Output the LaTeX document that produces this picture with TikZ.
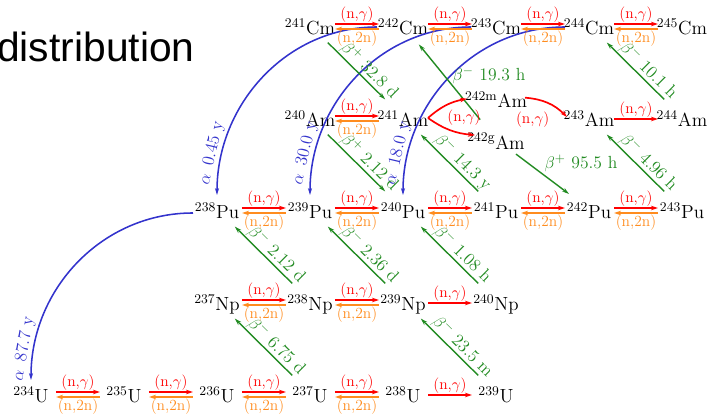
\documentclass[tikz,border=0pt]{standalone}
\usepackage{fontspec}
\usepackage{tikz}
\usetikzlibrary{arrows.meta, positioning, calc}
\newfontfamily\titlefont{Liberation Sans}
\definecolor{capture}{RGB}{255,0,0}
\definecolor{knockout}{RGB}{255,140,30}
\definecolor{betadk}{RGB}{34,139,34}
\definecolor{alphadk}{RGB}{51,51,204}

\begin{document}
\begin{tikzpicture}[x=2.325cm, y=2.3cm,
          nuc/.style={anchor=base, inner sep=0pt, font=\fontsize{13.5}{15}\selectfont},
          ng/.style={-{Stealth[length=5pt, width=3.2pt]}, draw=capture, line width=1.2pt},
          nn/.style={-{Stealth[length=5pt, width=3.2pt]}, draw=knockout, line width=1.2pt},
          rlab/.style={font=\fontsize{11}{12}\selectfont, inner sep=0.5pt},
          ngl/.style={rlab, above, text=capture},
          nnl/.style={rlab, below, text=knockout},
          bdk/.style={-{Stealth[length=5pt, width=3pt]}, draw=betadk, line width=1pt,
                      shorten <=0.625cm, shorten >=0.625cm},
          bhlab/.style={text=betadk, font=\fontsize{12.5}{14}\selectfont, inner sep=0pt},
          blab/.style={bhlab, inner sep=0.5pt, sloped, above},
          adk/.style={-{Stealth[length=5pt, width=3pt]}, draw=alphadk, line width=1.1pt},
          alab/.style={text=alphadk, font=\fontsize{12.5}{14}\selectfont, inner sep=1pt,
                       sloped, above, pos=0.85}
        ]
        \useasboundingbox (-0.775cm,-0.3cm) rectangle (17.05cm,10.075cm);
        \node[anchor=base west, inner sep=0pt, font=\titlefont\fontsize{29}{32}\selectfont]
          (title) at (-0.85cm,8.525cm) {distribution};

        % nuclides
        \node[nuc] (u234) at (0,0) {\textsuperscript{234}U};
        \node[nuc] (u235) at (1,0) {\textsuperscript{235}U};
        \node[nuc] (u236) at (2,0) {\textsuperscript{236}U};
        \node[nuc] (u237) at (3,0) {\textsuperscript{237}U};
        \node[nuc] (u238) at (4,0) {\textsuperscript{238}U};
        \node[nuc] (u239) at (5,0) {\textsuperscript{239}U};
        \node[nuc] (np237) at (2,1) {\textsuperscript{237}Np};
        \node[nuc] (np238) at (3,1) {\textsuperscript{238}Np};
        \node[nuc] (np239) at (4,1) {\textsuperscript{239}Np};
        \node[nuc] (np240) at (5,1) {\textsuperscript{240}Np};
        \node[nuc] (pu238) at (2,2) {\textsuperscript{238}Pu};
        \node[nuc] (pu239) at (3,2) {\textsuperscript{239}Pu};
        \node[nuc] (pu240) at (4,2) {\textsuperscript{240}Pu};
        \node[nuc] (pu241) at (5,2) {\textsuperscript{241}Pu};
        \node[nuc] (pu242) at (6,2) {\textsuperscript{242}Pu};
        \node[nuc] (pu243) at (7,2) {\textsuperscript{243}Pu};
        \node[nuc] (am240) at (3,3) {\textsuperscript{240}Am};
        \node[nuc] (am241) at (4,3) {\textsuperscript{241}Am};
        \node[nuc] (am242m) at (5,3.21) {\textsuperscript{242m}Am};
        \node[nuc] (am242g) at (5,2.76) {\textsuperscript{242g}Am};
        \node[nuc] (am243) at (6,3) {\textsuperscript{243}Am};
        \node[nuc] (am244) at (7,3) {\textsuperscript{244}Am};
        \node[nuc] (cm241) at (3,4) {\textsuperscript{241}Cm};
        \node[nuc] (cm242) at (4,4) {\textsuperscript{242}Cm};
        \node[nuc] (cm243) at (5,4) {\textsuperscript{243}Cm};
        \node[nuc] (cm244) at (6,4) {\textsuperscript{244}Cm};
        \node[nuc] (cm245) at (7,4) {\textsuperscript{245}Cm};

        % alpha decays
        \draw[adk] ([shift={(-0.65cm,0.2cm)}]cm242.base) to[out=180, in=90]
          node[alab] {$\alpha$\enspace 0.45 y} ([yshift=0.6cm]pu238.base);
        \draw[adk] ([shift={(-0.62cm,0.2cm)}]cm243.base) to[out=180, in=90]
          node[alab] {$\alpha$\enspace 30.0 y} ([yshift=0.6cm]pu239.base);
        \draw[adk] ([shift={(-0.6cm,0.2cm)}]cm244.base) to[out=180, in=90]
          node[alab] {$\alpha$\enspace 18.0 y} ([yshift=0.6cm]pu240.base);
        \draw[adk] ([shift={(-0.6cm,0.15cm)}]pu238.base) to[out=180, in=90]
          node[alab, pos=0.89] {$\alpha$\enspace 87.7 y} ([yshift=0.575cm]u234.base);

        % beta decays
        \draw[bdk] ([yshift=0.25cm]u237.base) -- node[blab, pos=0.43] {$\beta^-$ 6.75 d} ([yshift=0.25cm]np237.base);
        \draw[bdk] ([yshift=0.25cm]u239.base) -- node[blab, pos=0.43] {$\beta^-$ 23.5 m} ([yshift=0.25cm]np239.base);
        \draw[bdk] ([yshift=0.25cm]np238.base) -- node[blab, pos=0.43] {$\beta^-$ 2.12 d} ([yshift=0.25cm]pu238.base);
        \draw[bdk] ([yshift=0.25cm]np239.base) -- node[blab, pos=0.43] {$\beta^-$ 2.36 d} ([yshift=0.25cm]pu239.base);
        \draw[bdk] ([yshift=0.25cm]np240.base) -- node[blab, pos=0.43] {$\beta^-$ 1.08 h} ([yshift=0.25cm]pu240.base);
        \draw[bdk] ([yshift=0.25cm]pu241.base) -- node[blab, pos=0.43] {$\beta^-$ 14.3 y} ([yshift=0.25cm]am241.base);
        \draw[bdk] ([yshift=0.25cm]pu243.base) -- node[blab, pos=0.43] {$\beta^-$ 4.96 h} ([yshift=0.25cm]am243.base);
        \draw[bdk] ([yshift=0.25cm]am244.base) -- node[blab, pos=0.43] {$\beta^-$ 10.1 h} ([yshift=0.25cm]cm244.base);
        \draw[bdk] ([yshift=0.25cm]cm241.base) -- node[blab, pos=0.57] {$\beta^+$ 32.8 d} ([yshift=0.25cm]am241.base);
        \draw[bdk] ([yshift=0.25cm]am240.base) -- node[blab, pos=0.57] {$\beta^+$ 2.12 d} ([yshift=0.25cm]pu240.base);
        \draw[bdk] ([yshift=0.25cm]am242g.base) -- node[bhlab, pos=0.56, anchor=west, xshift=0.2cm] {$\beta^-$ 19.3 h} ([yshift=0.25cm]cm242.base);
        \draw[bdk] ([yshift=0.25cm]am242g.base) -- node[bhlab, pos=0.5, anchor=south west, inner sep=1pt] {$\beta^+$ 95.5 h} ([yshift=0.25cm]pu242.base);

        % (n,gamma) and (n,2n)
        \draw[ng] ([shift={(0.625cm,0.275cm)}]u234.base) -- node[ngl] {(n,$\gamma$)} ([shift={(-0.6cm,0.275cm)}]u235.base);
        \draw[nn] ([shift={(-0.6cm,0.15cm)}]u235.base) -- node[nnl] {(n,2n)} ([shift={(0.625cm,0.15cm)}]u234.base);
        \draw[ng] ([shift={(0.625cm,0.275cm)}]u235.base) -- node[ngl] {(n,$\gamma$)} ([shift={(-0.6cm,0.275cm)}]u236.base);
        \draw[nn] ([shift={(-0.6cm,0.15cm)}]u236.base) -- node[nnl] {(n,2n)} ([shift={(0.625cm,0.15cm)}]u235.base);
        \draw[ng] ([shift={(0.625cm,0.275cm)}]u236.base) -- node[ngl] {(n,$\gamma$)} ([shift={(-0.6cm,0.275cm)}]u237.base);
        \draw[nn] ([shift={(-0.6cm,0.15cm)}]u237.base) -- node[nnl] {(n,2n)} ([shift={(0.625cm,0.15cm)}]u236.base);
        \draw[ng] ([shift={(0.625cm,0.275cm)}]u237.base) -- node[ngl] {(n,$\gamma$)} ([shift={(-0.6cm,0.275cm)}]u238.base);
        \draw[nn] ([shift={(-0.6cm,0.15cm)}]u238.base) -- node[nnl] {(n,2n)} ([shift={(0.625cm,0.15cm)}]u237.base);
        \draw[ng] ([shift={(0.625cm,0.2cm)}]u238.base) -- node[ngl] {(n,$\gamma$)} ([shift={(-0.6cm,0.2cm)}]u239.base);

        \draw[ng] ([shift={(0.625cm,0.275cm)}]np237.base) -- node[ngl] {(n,$\gamma$)} ([shift={(-0.6cm,0.275cm)}]np238.base);
        \draw[nn] ([shift={(-0.6cm,0.15cm)}]np238.base) -- node[nnl] {(n,2n)} ([shift={(0.625cm,0.15cm)}]np237.base);
        \draw[ng] ([shift={(0.625cm,0.275cm)}]np238.base) -- node[ngl] {(n,$\gamma$)} ([shift={(-0.6cm,0.275cm)}]np239.base);
        \draw[nn] ([shift={(-0.6cm,0.15cm)}]np239.base) -- node[nnl] {(n,2n)} ([shift={(0.625cm,0.15cm)}]np238.base);
        \draw[ng] ([shift={(0.625cm,0.2cm)}]np239.base) -- node[ngl] {(n,$\gamma$)} ([shift={(-0.6cm,0.2cm)}]np240.base);

        \draw[ng] ([shift={(0.625cm,0.275cm)}]pu238.base) -- node[ngl] {(n,$\gamma$)} ([shift={(-0.6cm,0.275cm)}]pu239.base);
        \draw[nn] ([shift={(-0.6cm,0.15cm)}]pu239.base) -- node[nnl] {(n,2n)} ([shift={(0.625cm,0.15cm)}]pu238.base);
        \draw[ng] ([shift={(0.625cm,0.275cm)}]pu239.base) -- node[ngl] {(n,$\gamma$)} ([shift={(-0.6cm,0.275cm)}]pu240.base);
        \draw[nn] ([shift={(-0.6cm,0.15cm)}]pu240.base) -- node[nnl] {(n,2n)} ([shift={(0.625cm,0.15cm)}]pu239.base);
        \draw[ng] ([shift={(0.625cm,0.275cm)}]pu240.base) -- node[ngl] {(n,$\gamma$)} ([shift={(-0.6cm,0.275cm)}]pu241.base);
        \draw[nn] ([shift={(-0.6cm,0.15cm)}]pu241.base) -- node[nnl] {(n,2n)} ([shift={(0.625cm,0.15cm)}]pu240.base);
        \draw[ng] ([shift={(0.625cm,0.275cm)}]pu241.base) -- node[ngl] {(n,$\gamma$)} ([shift={(-0.6cm,0.275cm)}]pu242.base);
        \draw[nn] ([shift={(-0.6cm,0.15cm)}]pu242.base) -- node[nnl] {(n,2n)} ([shift={(0.625cm,0.15cm)}]pu241.base);
        \draw[ng] ([shift={(0.625cm,0.275cm)}]pu242.base) -- node[ngl] {(n,$\gamma$)} ([shift={(-0.6cm,0.275cm)}]pu243.base);
        \draw[nn] ([shift={(-0.6cm,0.15cm)}]pu243.base) -- node[nnl] {(n,2n)} ([shift={(0.625cm,0.15cm)}]pu242.base);

        \draw[ng] ([shift={(0.625cm,0.275cm)}]am240.base) -- node[ngl] {(n,$\gamma$)} ([shift={(-0.6cm,0.275cm)}]am241.base);
        \draw[nn] ([shift={(-0.6cm,0.15cm)}]am241.base) -- node[nnl] {(n,2n)} ([shift={(0.625cm,0.15cm)}]am240.base);
        \draw[ng] ([shift={(0.625cm,0.225cm)}]am241.base) to[bend left=15] ([shift={(-0.725cm,0.225cm)}]am242m.base);
        \draw[ng] ([shift={(0.625cm,0.225cm)}]am241.base) to[bend right=15] ([shift={(-0.525cm,0.35cm)}]am242g.base);
        \node[rlab, text=capture] (forklab) at ([shift={(1.525cm,0.225cm)}]am241.base) {(n,$\gamma$)};
        \draw[ng] ([shift={(0.725cm,0.25cm)}]am242m.base) to[bend left=20]
          node[rlab, text=capture, pos=0.15, below=0.3cm] {(n,$\gamma$)} ([shift={(-0.55cm,0.25cm)}]am243.base);
        \draw[ng] ([shift={(0.625cm,0.2cm)}]am243.base) -- node[ngl] {(n,$\gamma$)} ([shift={(-0.6cm,0.2cm)}]am244.base);

        \draw[ng] ([shift={(0.625cm,0.275cm)}]cm241.base) -- node[ngl] {(n,$\gamma$)} ([shift={(-0.6cm,0.275cm)}]cm242.base);
        \draw[nn] ([shift={(-0.6cm,0.15cm)}]cm242.base) -- node[nnl] {(n,2n)} ([shift={(0.625cm,0.15cm)}]cm241.base);
        \draw[ng] ([shift={(0.625cm,0.275cm)}]cm242.base) -- node[ngl] {(n,$\gamma$)} ([shift={(-0.6cm,0.275cm)}]cm243.base);
        \draw[nn] ([shift={(-0.6cm,0.15cm)}]cm243.base) -- node[nnl] {(n,2n)} ([shift={(0.625cm,0.15cm)}]cm242.base);
        \draw[ng] ([shift={(0.625cm,0.275cm)}]cm243.base) -- node[ngl] {(n,$\gamma$)} ([shift={(-0.6cm,0.275cm)}]cm244.base);
        \draw[nn] ([shift={(-0.6cm,0.15cm)}]cm244.base) -- node[nnl] {(n,2n)} ([shift={(0.625cm,0.15cm)}]cm243.base);
        \draw[ng] ([shift={(0.625cm,0.275cm)}]cm244.base) -- node[ngl] {(n,$\gamma$)} ([shift={(-0.6cm,0.275cm)}]cm245.base);
        \draw[nn] ([shift={(-0.6cm,0.15cm)}]cm245.base) -- node[nnl] {(n,2n)} ([shift={(0.625cm,0.15cm)}]cm244.base);
      \end{tikzpicture}
\end{document}
